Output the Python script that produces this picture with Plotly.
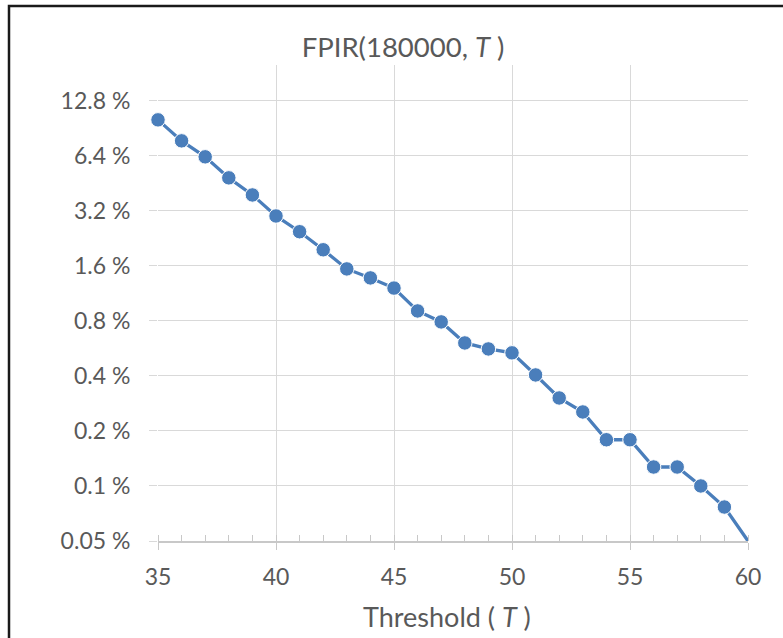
import plotly.graph_objects as go
import math

thresholds = list(range(35, 61))
fpir_pct = [10.07, 7.73, 6.32, 4.85, 3.91, 3.0, 2.46, 1.96, 1.54, 1.375, 1.21, 0.907,
            0.79, 0.606, 0.562, 0.535, 0.405, 0.303, 0.254, 0.179, 0.179, 0.127,
            0.127, 0.1, 0.0767, 0.05]
marker_sizes = [14.5] * 25 + [0]

ytick_vals = [0.05, 0.1, 0.2, 0.4, 0.8, 1.6, 3.2, 6.4, 12.8]
ytick_text = ["0.05 %", "0.1 %", "0.2 %", "0.4 %", "0.8 %", "1.6 %", "3.2 %", "6.4 %", "12.8 %"]
xtick_vals = [35, 40, 45, 50, 55, 60]

W, H = 783, 638
L, R, T, B = 158, 35, 65, 97
pw, ph = W - L - R, H - T - B

def px(xp):
    return (xp - L) / pw

def py(yp):
    return (H - B - yp) / ph

FONT = "Lato, 'Open Sans', sans-serif"
GRID = "#d9d9d9"
TXT = "#595959"
BLUE = "#4a7ebb"

fig = go.Figure()
fig.add_trace(go.Scatter(
    x=thresholds, y=fpir_pct, mode="lines+markers",
    line=dict(color=BLUE, width=3.3),
    marker=dict(color=BLUE, size=marker_sizes, opacity=1),
    cliponaxis=False, showlegend=False,
))

fig.update_layout(
    width=W, height=H,
    margin=dict(l=L, r=R, t=T, b=B),
    paper_bgcolor="white", plot_bgcolor="white",
    font=dict(family=FONT, color=TXT, size=22),
    title=dict(text="FPIR(180000, <i>T</i> )", xref="container", x=403 / W, xanchor="center",
               yref="container", y=1 - 47 / H, yanchor="middle", font=dict(size=27.5, color=TXT)),
    xaxis=dict(
        range=[35, 60], tickvals=xtick_vals, showgrid=True, gridcolor=GRID, gridwidth=1.3,
        showline=True, linecolor="#c8c8c8", linewidth=1.5,
        ticks="outside", ticklen=7, tickcolor="#c8c8c8", tickwidth=1.3,
        minor=dict(ticks="inside", dtick=1, ticklen=6, tickcolor="#c8c8c8", tickwidth=1.2, showgrid=False),
        tickfont=dict(size=23, color=TXT), ticklabelstandoff=8,
        zeroline=False,
    ),
    yaxis=dict(
        type="log", range=[math.log10(0.05), math.log10(20.1)],
        tickvals=ytick_vals, ticktext=ytick_text,
        showgrid=True, gridcolor=GRID, gridwidth=1.3, showline=False,
        ticks="outside", ticklen=8, tickcolor=GRID, tickwidth=1.3,
        tickfont=dict(size=23, color=TXT), ticklabelstandoff=14,
        zeroline=False,
    ),
    annotations=[
        dict(text="Threshold ( <i>T</i> )", xref="paper", yref="paper", x=px(447), y=py(617),
             xanchor="center", yanchor="middle", showarrow=False, font=dict(size=27, color=TXT)),
    ],
    shapes=[
        dict(type="rect", xref="paper", yref="paper", x0=px(9), x1=px(800), y0=py(6), y1=py(660),
             line=dict(color="#1a1a1a", width=2.5), fillcolor="rgba(0,0,0,0)", layer="above"),
    ],
)

fig.write_html("out.html", config={"displayModeBar": False},
               post_script="document.body.style.margin='0';document.body.style.padding='0';")
